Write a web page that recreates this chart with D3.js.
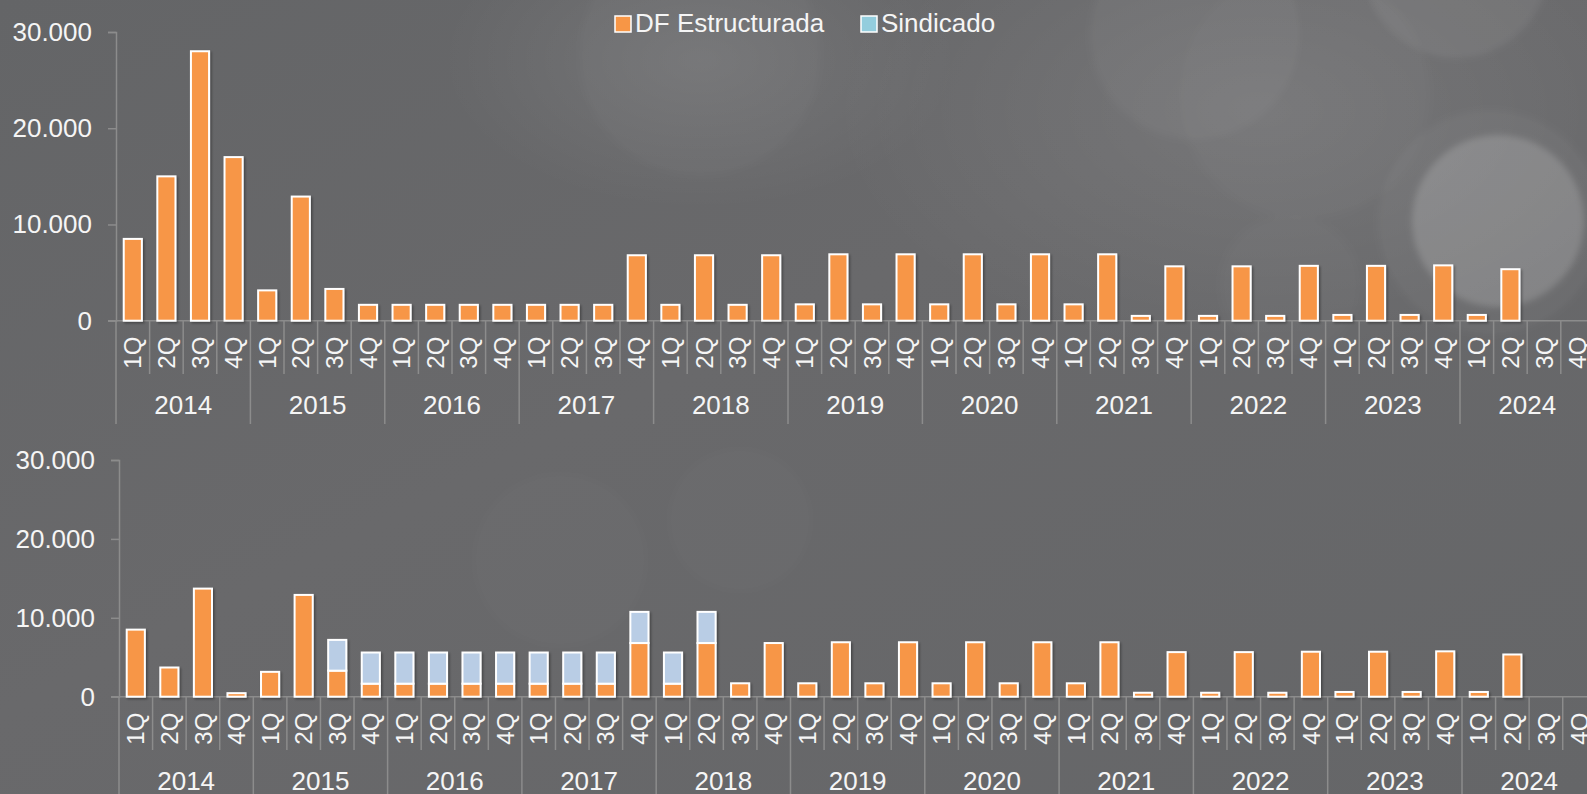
<!DOCTYPE html>
<html><head><meta charset="utf-8">
<script src="https://cdn.jsdelivr.net/npm/d3@7"></script>
<style>
html,body{margin:0;padding:0;background:#666769;overflow:hidden}
svg{display:block}
text{font-family:"Liberation Sans", Arial, Helvetica, sans-serif; fill:#f5f5f5}
</style></head><body>
<svg id="c" width="1587" height="794"></svg>
<script>
// ---------- DATA ----------
const years = ["2014","2015","2016","2017","2018","2019","2020","2021","2022","2023","2024"];
const quarters = ["1Q","2Q","3Q","4Q"];
const yTicks = [0, 10000, 20000, 30000];
const seriesNames = ["DF Estructurada", "Sindicado"];

// Top chart: DF Estructurada
const dfTop = [
  8500, 15000, 28000, 17000,
  3150, 12900, 3300, 1650,
  1650, 1650, 1650, 1650,
  1650, 1650, 1650, 6800,
  1650, 6800, 1650, 6800,
  1700, 6900, 1700, 6900,
  1700, 6900, 1700, 6900,
  1700, 6900, 500, 5650,
  500, 5650, 500, 5700,
  600, 5700, 600, 5750,
  600, 5350, null, null
];
// Bottom chart: DF Estructurada + Sindicado (stacked)
const dfBottom = [
  8500, 3700, 13700, 450,
  3150, 12900, 3300, 1650,
  1650, 1650, 1650, 1650,
  1650, 1650, 1650, 6800,
  1650, 6800, 1700, 6800,
  1700, 6900, 1700, 6900,
  1700, 6900, 1700, 6900,
  1700, 6900, 500, 5650,
  500, 5650, 500, 5700,
  600, 5700, 600, 5750,
  600, 5350, null, null
];
const sindicadoBottom = [
  0, 0, 0, 0,
  0, 0, 3900, 3950,
  3950, 3950, 3950, 3950,
  3950, 3950, 3950, 3950,
  3950, 3950, 0, 0,
  0, 0, 0, 0,
  0, 0, 0, 0,
  0, 0, 0, 0,
  0, 0, 0, 0,
  0, 0, 0, 0,
  0, 0, null, null
];

// ---------- STYLE ----------
const COL_DF = "#F79646";
const COL_SIND = "#B9CDE5";
const COL_SIND_LEGEND = "#93CDDD";
const AXIS_COL = "#8c8c8c";

const svg = d3.select("#c");
const W = 1587, H = 794;
const defs = svg.append("defs");

// background
const bg = defs.append("linearGradient").attr("id","bg").attr("x1",0).attr("y1",0).attr("x2",1).attr("y2",1);
bg.append("stop").attr("offset","0%").attr("stop-color","#646567");
bg.append("stop").attr("offset","45%").attr("stop-color","#69696b");
bg.append("stop").attr("offset","100%").attr("stop-color","#656668");
svg.append("rect").attr("width",W).attr("height",H).attr("fill","url(#bg)");

const glow = defs.append("radialGradient").attr("id","glow");
glow.append("stop").attr("offset","0%").attr("stop-color","#ffffff").attr("stop-opacity",0.09);
glow.append("stop").attr("offset","100%").attr("stop-color","#ffffff").attr("stop-opacity",0);
svg.append("ellipse").attr("cx",1260).attr("cy",110).attr("rx",430).attr("ry",250).attr("fill","url(#glow)");
svg.append("ellipse").attr("cx",700).attr("cy",60).attr("rx",260).attr("ry",150).attr("fill","url(#glow)");

const blur = defs.append("filter").attr("id","blur").attr("x","-20%").attr("y","-20%").attr("width","140%").attr("height","140%");
blur.append("feGaussianBlur").attr("stdDeviation",3);

const bokeh = [
  {cx:700, cy:55, r:120, o:0.025},
  {cx:1195, cy:35, r:105, o:0.035},
  {cx:1305, cy:95, r:125, o:0.02},
  {cx:1456, cy:-35, r:93, o:0.06},
  {cx:1490, cy:222, r:112, o:0.035},
  {cx:1498, cy:221, r:86, o:0.16},
  {cx:1290, cy:285, r:70, o:0.02},
  {cx:560, cy:560, r:85, o:0.015},
  {cx:740, cy:520, r:70, o:0.015}
];
svg.append("g").attr("filter","url(#blur)").selectAll("circle").data(bokeh).join("circle")
  .attr("cx",d=>d.cx).attr("cy",d=>d.cy).attr("r",d=>d.r)
  .attr("fill","#ffffff").attr("fill-opacity",d=>d.o);

// shadow filter
const f = defs.append("filter").attr("id","sh").attr("x","-30%").attr("y","-30%").attr("width","160%").attr("height","160%");
f.append("feDropShadow").attr("dx",1.5).attr("dy",1.5).attr("stdDeviation",1.2)
  .attr("flood-color","#000").attr("flood-opacity",0.35);

const loc = d3.formatLocale({decimal:",", thousands:".", grouping:[3], currency:["","€"]});
const fmt = loc.format(",d");

const cats = [];
years.forEach(y => quarters.forEach(q => cats.push({year:y, q:q, key:y+"-"+q})));

function drawChart(cfg, layers) {
  const g = svg.append("g");
  const x = d3.scaleBand().domain(cats.map(c=>c.key)).range([cfg.x0, cfg.x1])
    .paddingInner(0.46).paddingOuter(0.23);
  const step = x.step();
  const y = d3.scaleLinear().domain([0, 30000]).range([cfg.y0, cfg.yTop]);

  // y axis
  const ya = d3.axisLeft(y).tickValues(yTicks).tickFormat(fmt).tickSize(8).tickPadding(16);
  const yg = g.append("g").attr("transform",`translate(${cfg.x0},0)`).call(ya);
  yg.select(".domain").attr("stroke",AXIS_COL).attr("stroke-width",1.5);
  yg.selectAll(".tick line").attr("stroke",AXIS_COL).attr("stroke-width",1.5);
  yg.selectAll(".tick text").attr("font-size",26).attr("fill","#f5f5f5")
    .attr("font-family",'"Liberation Sans", Arial, sans-serif');

  // x baseline
  g.append("line").attr("x1",cfg.x0-8).attr("x2",W).attr("y1",cfg.y0).attr("y2",cfg.y0)
    .attr("stroke",AXIS_COL).attr("stroke-width",1.5);

  // separators
  const bounds = d3.range(0, cats.length+1);
  g.append("g").selectAll("line").data(bounds).join("line")
    .attr("x1",i=>cfg.x0 + i*step).attr("x2",i=>cfg.x0 + i*step)
    .attr("y1",cfg.y0)
    .attr("y2",i=> i%4===0 ? cfg.yearLineEnd : cfg.qLineEnd)
    .attr("stroke",AXIS_COL).attr("stroke-width",1.5);

  // bars
  const bars = g.append("g").attr("filter","url(#sh)");
  layers.forEach(L => {
    bars.append("g").selectAll("rect").data(L.data.filter(d=>d.v1!=null && d.v1>d.v0)).join("rect")
      .attr("x",d=>x(d.key)).attr("width",x.bandwidth())
      .attr("y",d=>y(d.v1)).attr("height",d=>y(d.v0)-y(d.v1))
      .attr("fill",L.color).attr("stroke","#ffffff").attr("stroke-width",2);
  });

  // quarter labels
  g.append("g").selectAll("text").data(cats).join("text")
    .attr("transform",d=>`translate(${x(d.key)+x.bandwidth()/2},${cfg.y0+cfg.qLabelGap}) rotate(-90)`)
    .attr("text-anchor","end").attr("dy","0.36em")
    .attr("font-size",24).text(d=>d.q);

  // year labels
  g.append("g").selectAll("text").data(years).join("text")
    .attr("x",(d,i)=>cfg.x0 + (i*4+2)*step).attr("y",cfg.yearBase)
    .attr("text-anchor","middle").attr("font-size",26).text(d=>d);
}

function layerOf(vals, base) {
  return cats.map((c,i)=>{
    const b = base ? (base[i]||0) : 0;
    const v = vals[i];
    return {key:c.key, v0:b, v1: v==null ? null : b+v};
  });
}

// top chart
drawChart({x0:116, x1:116+44*33.6, y0:320.7, yTop:32, yearLineEnd:424, qLineEnd:374, qLabelGap:16, yearBase:414},
  [{color:COL_DF, data:layerOf(dfTop)}]);

// bottom chart (stacked via d3.stack)
const stackRows = cats.map((c,i)=>({key:c.key, df:dfBottom[i], sind:sindicadoBottom[i]}));
const stacked = d3.stack().keys(["df","sind"]).value((d,k)=>d[k]==null?0:d[k])(stackRows);
const toLayer = (s)=> s.map((p,i)=>({key:stackRows[i].key, v0:p[0], v1: dfBottom[i]==null?null:p[1]}));
drawChart({x0:119, x1:119+44*33.575, y0:696.7, yTop:460, yearLineEnd:794, qLineEnd:750, qLabelGap:16, yearBase:790},
  [{color:COL_DF, data:toLayer(stacked[0])},{color:COL_SIND, data:toLayer(stacked[1])}]);

// legend
const leg = svg.append("g");
const legItems = [
  {name:seriesNames[0], color:COL_DF, x:615},
  {name:seriesNames[1], color:COL_SIND_LEGEND, x:861}
];
legItems.forEach(it=>{
  leg.append("rect").attr("x",it.x).attr("y",16).attr("width",16).attr("height",16)
    .attr("fill",it.color).attr("stroke","#ffffff").attr("stroke-width",1.5);
  leg.append("text").attr("x",it.x+20).attr("y",32).attr("font-size",26).text(it.name);
});
</script>
</body></html>
